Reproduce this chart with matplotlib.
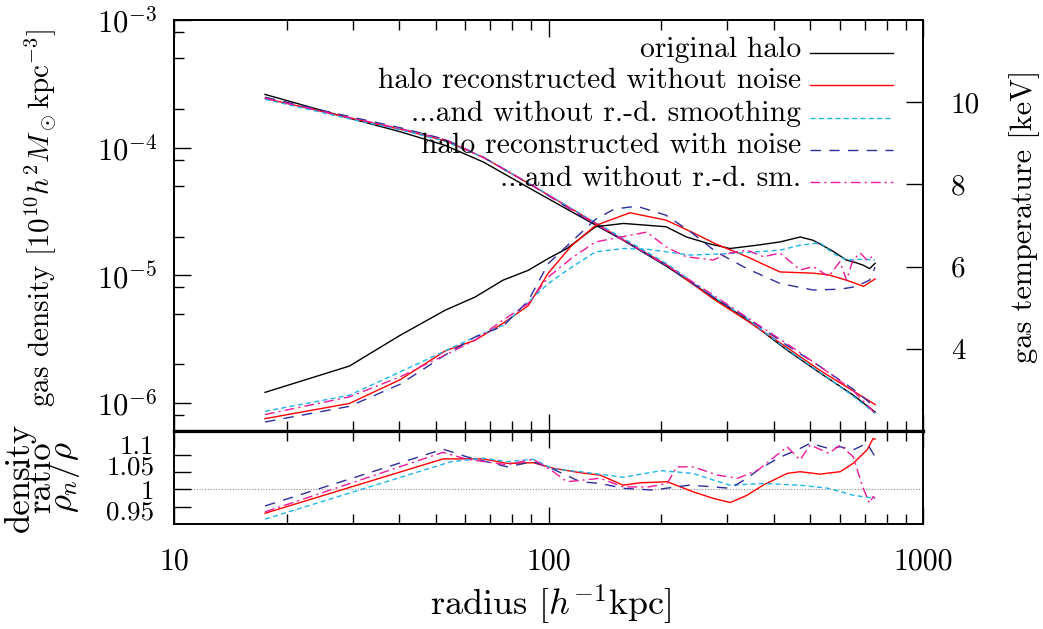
import numpy as np
import matplotlib
matplotlib.use('Agg')
import matplotlib.pyplot as plt
from matplotlib.ticker import FixedLocator, NullFormatter, FixedFormatter, LogLocator
from matplotlib.lines import Line2D

plt.rcParams['font.family'] = 'serif'
plt.rcParams['font.serif'] = ['cmr10']
plt.rcParams['mathtext.fontset'] = 'cm'
plt.rcParams['axes.unicode_minus'] = False
plt.rcParams['axes.formatter.use_mathtext'] = True

# ---------------- data ----------------
labels = ["original halo",
          "halo reconstructed without noise",
          "...and without r.-d. smoothing",
          "halo reconstructed with noise",
          "...and without r.-d. sm."]

# gas density [1e10 h^2 Msun kpc^-3]
r_dens = [17.5, 29.4, 40.2, 53, 67, 91, 121, 158, 207, 275, 340, 433, 531, 650, 745]
dens_orig = [2.61e-4, 1.70e-4, 1.33e-4, 1.04e-4, 7.7e-5, 4.63e-5, 2.9e-5, 1.88e-5,
             1.17e-5, 6.7e-6, 4.45e-6, 2.59e-6, 1.71e-6, 1.15e-6, 8.45e-7]
dens_nonoise = [2.43e-4, 1.71e-4, 1.39e-4, 1.13e-4, 8.38e-5, 4.99e-5, 3.04e-5, 1.90e-5,
                1.20e-5, 6.53e-6, 4.37e-6, 2.71e-6, 1.79e-6, 1.24e-6, 9.67e-7]
dens_nonoise_nosm = [2.39e-4, 1.68e-4, 1.38e-4, 1.12e-4, 8.38e-5, 5.02e-5, 3.05e-5, 1.95e-5,
                     1.23e-5, 6.80e-6, 4.52e-6, 2.63e-6, 1.73e-6, 1.13e-6, 8.24e-7]
dens_noise = [2.48e-4, 1.75e-4, 1.43e-4, 1.16e-4, 8.39e-5, 4.99e-5, 2.96e-5, 1.89e-5,
              1.18e-5, 6.74e-6, 4.59e-6, 2.82e-6, 1.92e-6, 1.28e-6, 9.24e-7]
dens_noise_nosm = [2.44e-4, 1.72e-4, 1.41e-4, 1.15e-4, 8.35e-5, 5.02e-5, 2.99e-5, 1.89e-5,
                   1.19e-5, 7.0e-6, 4.63e-6, 2.90e-6, 1.92e-6, 1.25e-6, 8.24e-7]

# gas temperature [keV]
r_T_orig = [17.5, 29.4, 40.2, 53, 63.7, 75.6, 88.3, 100, 112, 133.5, 158.6, 206, 233.6,
            270, 305, 360, 415, 470, 509, 576, 624, 660, 694, 720, 745]
T_orig = [2.94, 3.58, 4.33, 4.94, 5.26, 5.67, 5.91, 6.20, 6.44, 6.97, 7.05, 6.97, 6.72,
          6.55, 6.44, 6.52, 6.60, 6.72, 6.64, 6.37, 6.16, 6.10, 6.03, 5.95, 6.08]
r_T_nonoise = [17.5, 29.4, 40.2, 53, 63.7, 75.6, 88.3, 100, 115, 133.5, 165, 206, 240,
               280, 339, 415, 509, 560, 624, 694, 745]
T_nonoise = [2.30, 2.67, 3.25, 3.95, 4.21, 4.62, 5.05, 5.85, 6.50, 7.00, 7.31, 7.13, 6.85,
             6.55, 6.24, 5.87, 5.84, 5.80, 5.67, 5.52, 5.70]
r_T_nonoise_nosm = [17.5, 29.4, 40.2, 53, 63.7, 75.6, 88.3, 100, 112, 133.5, 158.6, 185,
                    206, 240, 305, 360, 415, 470, 531, 576, 624, 694, 745]
T_nonoise_nosm = [2.48, 2.87, 3.44, 3.95, 4.29, 4.57, 5.14, 5.59, 5.91, 6.36, 6.44, 6.42,
                  6.36, 6.28, 6.32, 6.36, 6.40, 6.52, 6.58, 6.32, 6.16, 6.18, 6.16]
r_T_noise = [17.5, 29.4, 40.2, 53, 63.7, 75.6, 88.3, 100, 115, 133.5, 150, 172, 206, 240,
             280, 339, 415, 509, 600, 660, 720, 745]
T_noise = [2.22, 2.60, 3.14, 3.85, 4.29, 4.55, 5.17, 6.08, 6.60, 7.15, 7.40, 7.47, 7.25,
           6.84, 6.36, 5.95, 5.59, 5.43, 5.45, 5.51, 5.67, 5.99]
r_T_noise_nosm = [17.5, 29.4, 40.2, 53, 63.7, 75.6, 88.3, 100, 115, 133.5, 150, 183, 206,
                  233, 275, 305, 339, 375, 415, 470, 509, 560, 600, 625, 650, 680, 710, 745]
T_noise_nosm = [2.40, 2.83, 3.32, 3.85, 4.21, 4.70, 5.10, 5.75, 6.20, 6.60, 6.69, 6.84, 6.48,
                6.24, 6.16, 6.33, 6.40, 6.24, 6.33, 5.92, 6.00, 5.76, 6.12, 5.67, 6.16, 6.33,
                6.15, 6.30]

# density ratio rho_n / rho
r_ratio_nonoise = [17.5, 52.3, 67, 77.6, 91, 103, 121.6, 137.5, 158.3, 175.7, 207.5, 243.3,
                   275.4, 305.7, 339, 374, 433.6, 469.5, 531, 601, 651, 709, 736, 745]
ratio_nonoise = [0.931, 1.088, 1.088, 1.075, 1.077, 1.061, 1.048, 1.041, 1.012, 1.019, 1.022,
                 0.993, 0.974, 0.962, 0.983, 1.012, 1.046, 1.051, 1.044, 1.051, 1.075, 1.114,
                 1.147, 1.145]
r_ratio_nonoise_nosm = [17.5, 55, 67, 77.6, 91, 103, 121.6, 158.3, 200, 243.3, 275.4, 305.7,
                        374, 469.5, 560, 651, 745]
ratio_nonoise_nosm = [0.914, 1.080, 1.090, 1.080, 1.087, 1.059, 1.051, 1.035, 1.054, 1.046,
                      1.027, 1.012, 1.017, 1.012, 1.003, 0.983, 0.974]
r_ratio_noise = [17.5, 52.3, 60.5, 77.6, 91, 103, 121.6, 137.5, 158.3, 190, 237, 270, 305.7,
                 339, 363, 410, 469.5, 500, 560, 601, 651, 709, 745]
ratio_noise = [0.952, 1.116, 1.094, 1.065, 1.080, 1.058, 1.022, 1.017, 1.003, 0.998, 1.012,
               1.008, 1.003, 1.032, 1.056, 1.090, 1.118, 1.133, 1.118, 1.123, 1.114, 1.133, 1.094]
r_ratio_noise_nosm = [17.5, 52.3, 60.5, 77.6, 91, 103, 112, 137.5, 158.3, 185, 207.5, 220,
                      243.3, 283, 320, 363, 433.6, 469.5, 500, 560, 601, 651, 690, 720, 736, 745]
ratio_noise_nosm = [0.935, 1.107, 1.087, 1.071, 1.087, 1.051, 1.022, 1.032, 1.007, 1.007,
                    1.017, 1.065, 1.065, 1.041, 1.032, 1.056, 1.123, 1.085, 1.128, 1.104,
                    1.128, 1.094, 1.007, 0.960, 0.979, 0.975]

colors = ['black', '#ff0000', '#1eb4ee', '#2e2e9c', '#f0189a']
styles = ['-', '-', (0, (3.6, 2.4)), (0, (7.5, 6.0)), (0, (7.0, 3.0, 1.5, 3.0))]
lws = [1.0, 1.0, 1.0, 1.0, 1.0]

# ---------------- figure ----------------
W, H = 1043, 629
fig = plt.figure(figsize=(W / 100, H / 100), dpi=100)
L, R = 174, 923
T_top, T_mid, T_bot = 20, 431, 524
ax = fig.add_axes([L / W, 1 - T_mid / H, (R - L) / W, (T_mid - T_top) / H])
axb = fig.add_axes([L / W, 1 - T_bot / H, (R - L) / W, (T_bot - T_mid) / H])
axT = ax.twinx()

dens_sets = [dens_orig, dens_nonoise, dens_nonoise_nosm, dens_noise, dens_noise_nosm]
for d, c, s, lw in zip(dens_sets, colors, styles, lws):
    ax.plot(r_dens, d, color=c, ls=s, lw=lw)

T_sets = [(r_T_orig, T_orig), (r_T_nonoise, T_nonoise), (r_T_nonoise_nosm, T_nonoise_nosm),
          (r_T_noise, T_noise), (r_T_noise_nosm, T_noise_nosm)]
for (rr, tt), c, s, lw in zip(T_sets, colors, styles, lws):
    axT.plot(rr, tt, color=c, ls=s, lw=lw)

ratio_sets = [(r_ratio_nonoise, ratio_nonoise), (r_ratio_nonoise_nosm, ratio_nonoise_nosm),
              (r_ratio_noise, ratio_noise), (r_ratio_noise_nosm, ratio_noise_nosm)]
for (rr, qq), c, s, lw in zip(ratio_sets, colors[1:], styles[1:], lws[1:]):
    axb.plot(rr, qq, color=c, ls=s, lw=lw)
axb.axhline(1.0, color='#888888', ls=(0, (1, 1.5)), lw=0.8, zorder=0)

# ---------------- axes setup ----------------
for a in (ax, axb, axT):
    a.set_xscale('log')
    a.set_xlim(10, 1000)
ax.set_yscale('log')
ax.set_ylim(6.0e-7, 1e-3)
axT.set_ylim(2, 12)
axb.set_ylim(0.9, 1.1685)

major_len, minor_len = 12.5, 7.0
for a in (ax, axb):
    a.xaxis.set_major_locator(FixedLocator([10, 100, 1000]))
    a.xaxis.set_minor_locator(LogLocator(base=10, subs=np.arange(2, 10)))
    a.xaxis.set_minor_formatter(NullFormatter())
    a.tick_params(axis='x', which='both', direction='in', top=True, bottom=True)
    a.tick_params(axis='x', which='major', length=major_len, width=1.0)
    a.tick_params(axis='x', which='minor', length=minor_len, width=1.0)

ax.tick_params(axis='x', labelbottom=False)
axb.xaxis.set_major_formatter(FixedFormatter(['10', '100', '1000']))
axb.tick_params(axis='x', which='major', labelsize=21.5, pad=17)

# left density axis
ax.yaxis.set_major_locator(FixedLocator([1e-6, 1e-5, 1e-4, 1e-3]))
ax.yaxis.set_major_formatter(FixedFormatter([r'$10^{-6}$', r'$10^{-5}$', r'$10^{-4}$', r'$10^{-3}$']))
minor_d = [m * 10.0 ** e for e in range(-7, -3) for m in (2, 5, 8)]
ax.yaxis.set_minor_locator(FixedLocator(minor_d))
ax.yaxis.set_minor_formatter(NullFormatter())
ax.tick_params(axis='y', which='both', direction='in', left=True, right=False)
ax.tick_params(axis='y', which='major', length=major_len, width=1.0, labelsize=22, pad=12)
ax.tick_params(axis='y', which='minor', length=minor_len, width=1.0)

# right temperature axis
axT.yaxis.set_major_locator(FixedLocator([4, 6, 8, 10]))
axT.yaxis.set_major_formatter(FixedFormatter(['4', '6', '8', '10']))
axT.yaxis.set_minor_locator(FixedLocator([]))
axT.tick_params(axis='y', which='major', direction='in', length=major_len, width=1.0,
                labelsize=21, pad=20, left=False, right=True)

# ratio axis
axb.yaxis.set_major_locator(FixedLocator([0.95, 1.0, 1.05, 1.1]))
axb.yaxis.set_major_formatter(NullFormatter())
axb.yaxis.set_minor_locator(FixedLocator([]))
axb.tick_params(axis='y', which='major', direction='in', length=major_len, width=1.0,
                left=True, right=False)
for txt, yp in [('1.1', 446.7), ('1.05', 468.0), ('1', 491.7), ('0.95', 513.0)]:
    axb.text(-0.026, (T_bot - yp) / (T_bot - T_mid), txt, transform=axb.transAxes,
             ha='right', va='center', fontsize=19.5)

for a in (ax, axb, axT):
    for sp in a.spines.values():
        sp.set_linewidth(1.4)
ax.spines['bottom'].set_linewidth(2.3)
axb.spines['top'].set_linewidth(2.3)
ax.patch.set_visible(False)

# ---------------- labels ----------------
fig.text(40 / W, 1 - 218 / H,
         r'gas density $[10^{10}h^2M_\odot\mathrm{kpc}^{-3}]$',
         rotation=90, ha='center', va='center', fontsize=21)
fig.text(1025 / W, 1 - 216 / H, 'gas temperature [keV]',
         rotation=90, ha='center', va='center', fontsize=21.8)
fig.text(43 / W, 1 - 477 / H, 'density\nratio\n' + r'$\rho_n/\rho$',
         rotation=90, ha='center', va='center', fontsize=25, linespacing=0.56)
fig.text(551 / W, 1 - 605 / H, r'radius $[h^{-1}\mathrm{kpc}]$',
         ha='center', va='center', fontsize=26)

# ---------------- legend (manual, right aligned text, sample line after) ----------------
leg_y = [53.3, 85.0, 117.5, 149.5, 182.0]
for lab, c, s, lw, yy in zip(labels, colors, styles, lws, leg_y):
    fig.text(801 / W, 1 - (yy + 3.5) / H, lab, ha='right', va='baseline', fontsize=21.3)
    fig.add_artist(Line2D([810 / W, 893 / W], [1 - yy / H, 1 - yy / H],
                          transform=fig.transFigure, color=c, ls=s, lw=lw))

fig.savefig('out.png', dpi=100)
